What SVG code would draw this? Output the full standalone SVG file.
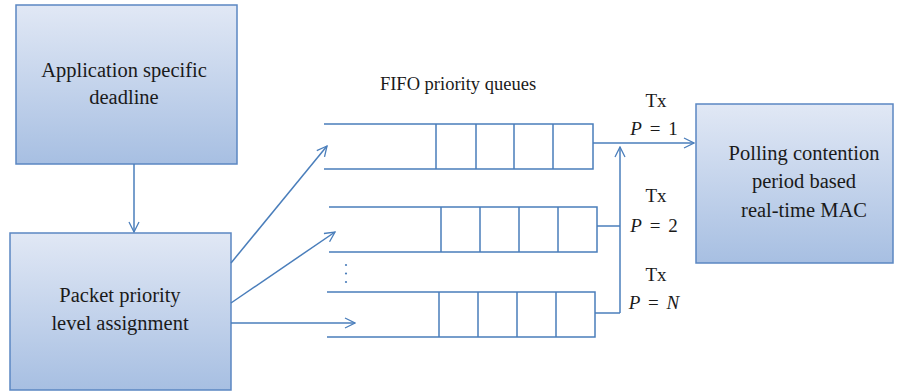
<svg xmlns="http://www.w3.org/2000/svg" width="905" height="392" viewBox="0 0 905 392">
<defs>
<linearGradient id="g" x1="0" y1="0" x2="0" y2="1">
<stop offset="0" stop-color="#e1e8f5"/>
<stop offset="1" stop-color="#a7bfe2"/>
</linearGradient>
<marker id="ah" viewBox="0 0 12 12" refX="11" refY="6" markerWidth="12" markerHeight="12" markerUnits="userSpaceOnUse" orient="auto">
<path d="M1,1 L11,6 L1,11" fill="none" stroke="#4a7ebb" stroke-width="1.3"/>
</marker>
</defs>
<style>
.box{fill:url(#g);stroke:#5b87c2;stroke-width:1.5}
.ln{fill:none;stroke:#4a7ebb;stroke-width:1.5}
.q{fill:none;stroke:#4a7ebb;stroke-width:1.5}
text{font-family:"Liberation Serif","Times New Roman",serif;font-size:20.5px;fill:#1a1a1a;text-anchor:middle}
.lbl{font-size:19px;word-spacing:3px}
.fifo{font-size:18.5px}
.it{font-style:italic}
</style>
<rect width="905" height="392" fill="#ffffff"/>
<g id="app">
<rect class="box" x="16" y="5" width="221" height="159"/>
<text x="124" y="77">Application specific</text>
<text x="124" y="104">deadline</text>
</g>
<g id="packet">
<rect class="box" x="10" y="233" width="221" height="157"/>
<text x="120" y="302">Packet priority</text>
<text x="120" y="330">level assignment</text>
</g>
<g id="mac">
<rect class="box" x="696" y="104" width="197" height="159"/>
<text x="804" y="160">Polling contention</text>
<text x="804" y="188">period based</text>
<text x="804" y="217">real-time MAC</text>
</g>
<g id="queue1">
<path class="q" d="M324,124 H593 V169 H324 M436,124 V169 M476,124 V169 M514,124 V169 M553,124 V169"/>
</g>
<g id="queue2">
<path class="q" d="M329,207 H597 V252 H329 M441,207 V252 M480,207 V252 M519,207 V252 M558,207 V252"/>
</g>
<g id="queue3">
<path class="q" d="M327,292 H595 V337 H327 M439,292 V337 M478,292 V337 M517,292 V337 M556,292 V337"/>
</g>
<g id="dots" fill="#4a7ebb">
<circle cx="346" cy="265" r="1.1"/>
<circle cx="346" cy="273.5" r="1.1"/>
<circle cx="346" cy="282" r="1.1"/>
</g>
<g id="labels">
<text class="fifo" x="458" y="90">FIFO priority queues</text>
<text class="lbl" x="656" y="107">Tx</text>
<text class="lbl" x="654" y="135"><tspan class="it">P</tspan> = 1</text>
<text class="lbl" x="656" y="202">Tx</text>
<text class="lbl" x="654" y="232"><tspan class="it">P</tspan> = 2</text>
<text class="lbl" x="656" y="281">Tx</text>
<text class="lbl" x="654" y="309"><tspan class="it">P</tspan> = <tspan class="it">N</tspan></text>
</g>
<g id="connectors">
<line class="ln" x1="134" y1="164" x2="134" y2="232" marker-end="url(#ah)"/>
<line class="ln" x1="231" y1="263" x2="327" y2="146" marker-end="url(#ah)"/>
<line class="ln" x1="231" y1="303" x2="335" y2="232" marker-end="url(#ah)"/>
<line class="ln" x1="231" y1="323" x2="355" y2="323" marker-end="url(#ah)"/>
<line class="ln" x1="593" y1="143" x2="694" y2="143" marker-end="url(#ah)"/>
<line class="ln" x1="597" y1="226" x2="620" y2="226"/>
<line class="ln" x1="595" y1="313" x2="620" y2="313"/>
<line class="ln" x1="620" y1="313" x2="620" y2="147" marker-end="url(#ah)"/>
</g>
</svg>
